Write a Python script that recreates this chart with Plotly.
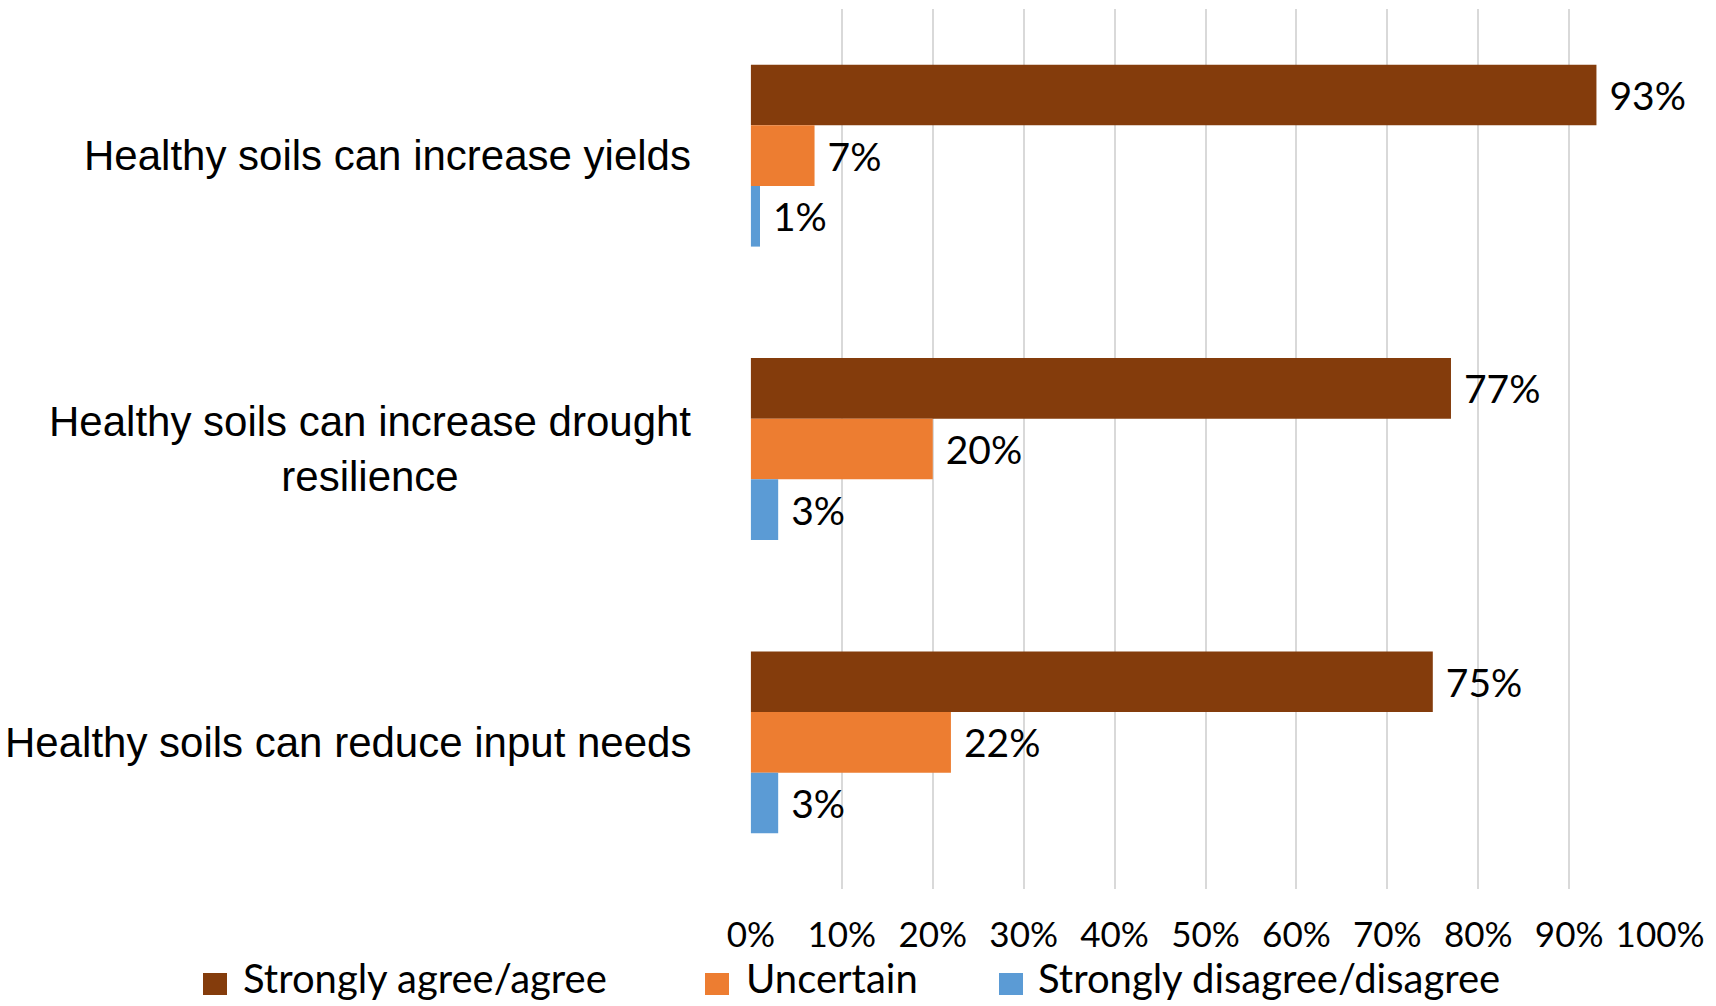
import plotly.graph_objects as go

categories = ["Healthy soils can increase yields",
              "Healthy soils can increase drought<br>resilience",
              "Healthy soils can reduce input needs"]
series_names = ["Strongly agree/agree", "Uncertain", "Strongly disagree/disagree"]
agree = [0.93, 0.77, 0.75]
uncertain = [0.07, 0.20, 0.22]
disagree = [0.01, 0.03, 0.03]
colors = ["#843C0C", "#ED7D31", "#5B9BD5"]
tick_vals = [0, 0.1, 0.2, 0.3, 0.4, 0.5, 0.6, 0.7, 0.8, 0.9, 1.0]
tick_text = ["0%", "10%", "20%", "30%", "40%", "50%", "60%", "70%", "80%", "90%", "100%"]

LABEL_FONT = "Lato"
CAT_FONT = "Liberation Sans"

W, H = 1716, 1006
ML, MR, MT, MB = 750, 55, 9, 117
PW, PH = W - ML - MR, H - MT - MB

def px_x(p):
    return (p - ML) / PW

def px_y(p):
    return (H - MB - p) / PH

fig = go.Figure()
for name, vals, col in zip(series_names, [agree, uncertain, disagree], colors):
    fig.add_trace(go.Bar(
        y=categories, x=vals, name=name, orientation="h",
        marker=dict(color=col, line=dict(width=0)),
        text=["\u00a0" + f"{round(v*100)}%" for v in vals],
        textposition="outside", cliponaxis=False,
        textfont=dict(family=LABEL_FONT, size=39, color="#000000"),
        hoverinfo="skip", showlegend=False,
    ))

for cat in categories:
    fig.add_annotation(
        x=0, xref="paper", xanchor="right", xshift=-57,
        y=cat, yref="y", yanchor="middle",
        text=cat, showarrow=False, align="center",
        font=dict(family=CAT_FONT, size=42, color="#000000"),
    )

# legend drawn manually (square swatch + label)
legend_square_left = [203, 705, 999]
legend_text_left = [242, 745, 1037]
for name, col, sx, tx in zip(series_names, colors, legend_square_left, legend_text_left):
    fig.add_shape(type="rect", xref="paper", yref="paper",
                  x0=px_x(sx), x1=px_x(sx + 24), y0=px_y(995), y1=px_y(973),
                  fillcolor=col, line=dict(width=0))
    fig.add_annotation(x=px_x(tx), xref="paper", xanchor="left",
                       y=px_y(978), yref="paper", yanchor="middle",
                       text=name, showarrow=False, borderpad=0,
                       font=dict(family=LABEL_FONT, size=40, color="#000000"))

fig.update_layout(
    width=W, height=H,
    margin=dict(l=ML, r=MR, t=MT, b=MB, autoexpand=False),
    paper_bgcolor="white", plot_bgcolor="white",
    barmode="group", bargap=0.38, bargroupgap=0,
    showlegend=False,
    xaxis=dict(range=[-0.001, 1.001], tickvals=tick_vals, ticktext=tick_text,
               showgrid=True, gridcolor="#D9D9D9", gridwidth=1.5,
               zeroline=False, showline=False, ticks="",
               ticklabelstandoff=22,
               tickfont=dict(family=LABEL_FONT, size=35, color="#000000")),
    yaxis=dict(autorange="reversed", showticklabels=False, showgrid=False,
               zeroline=False, showline=False, ticks=""),
)

fig.write_html("out.html")
